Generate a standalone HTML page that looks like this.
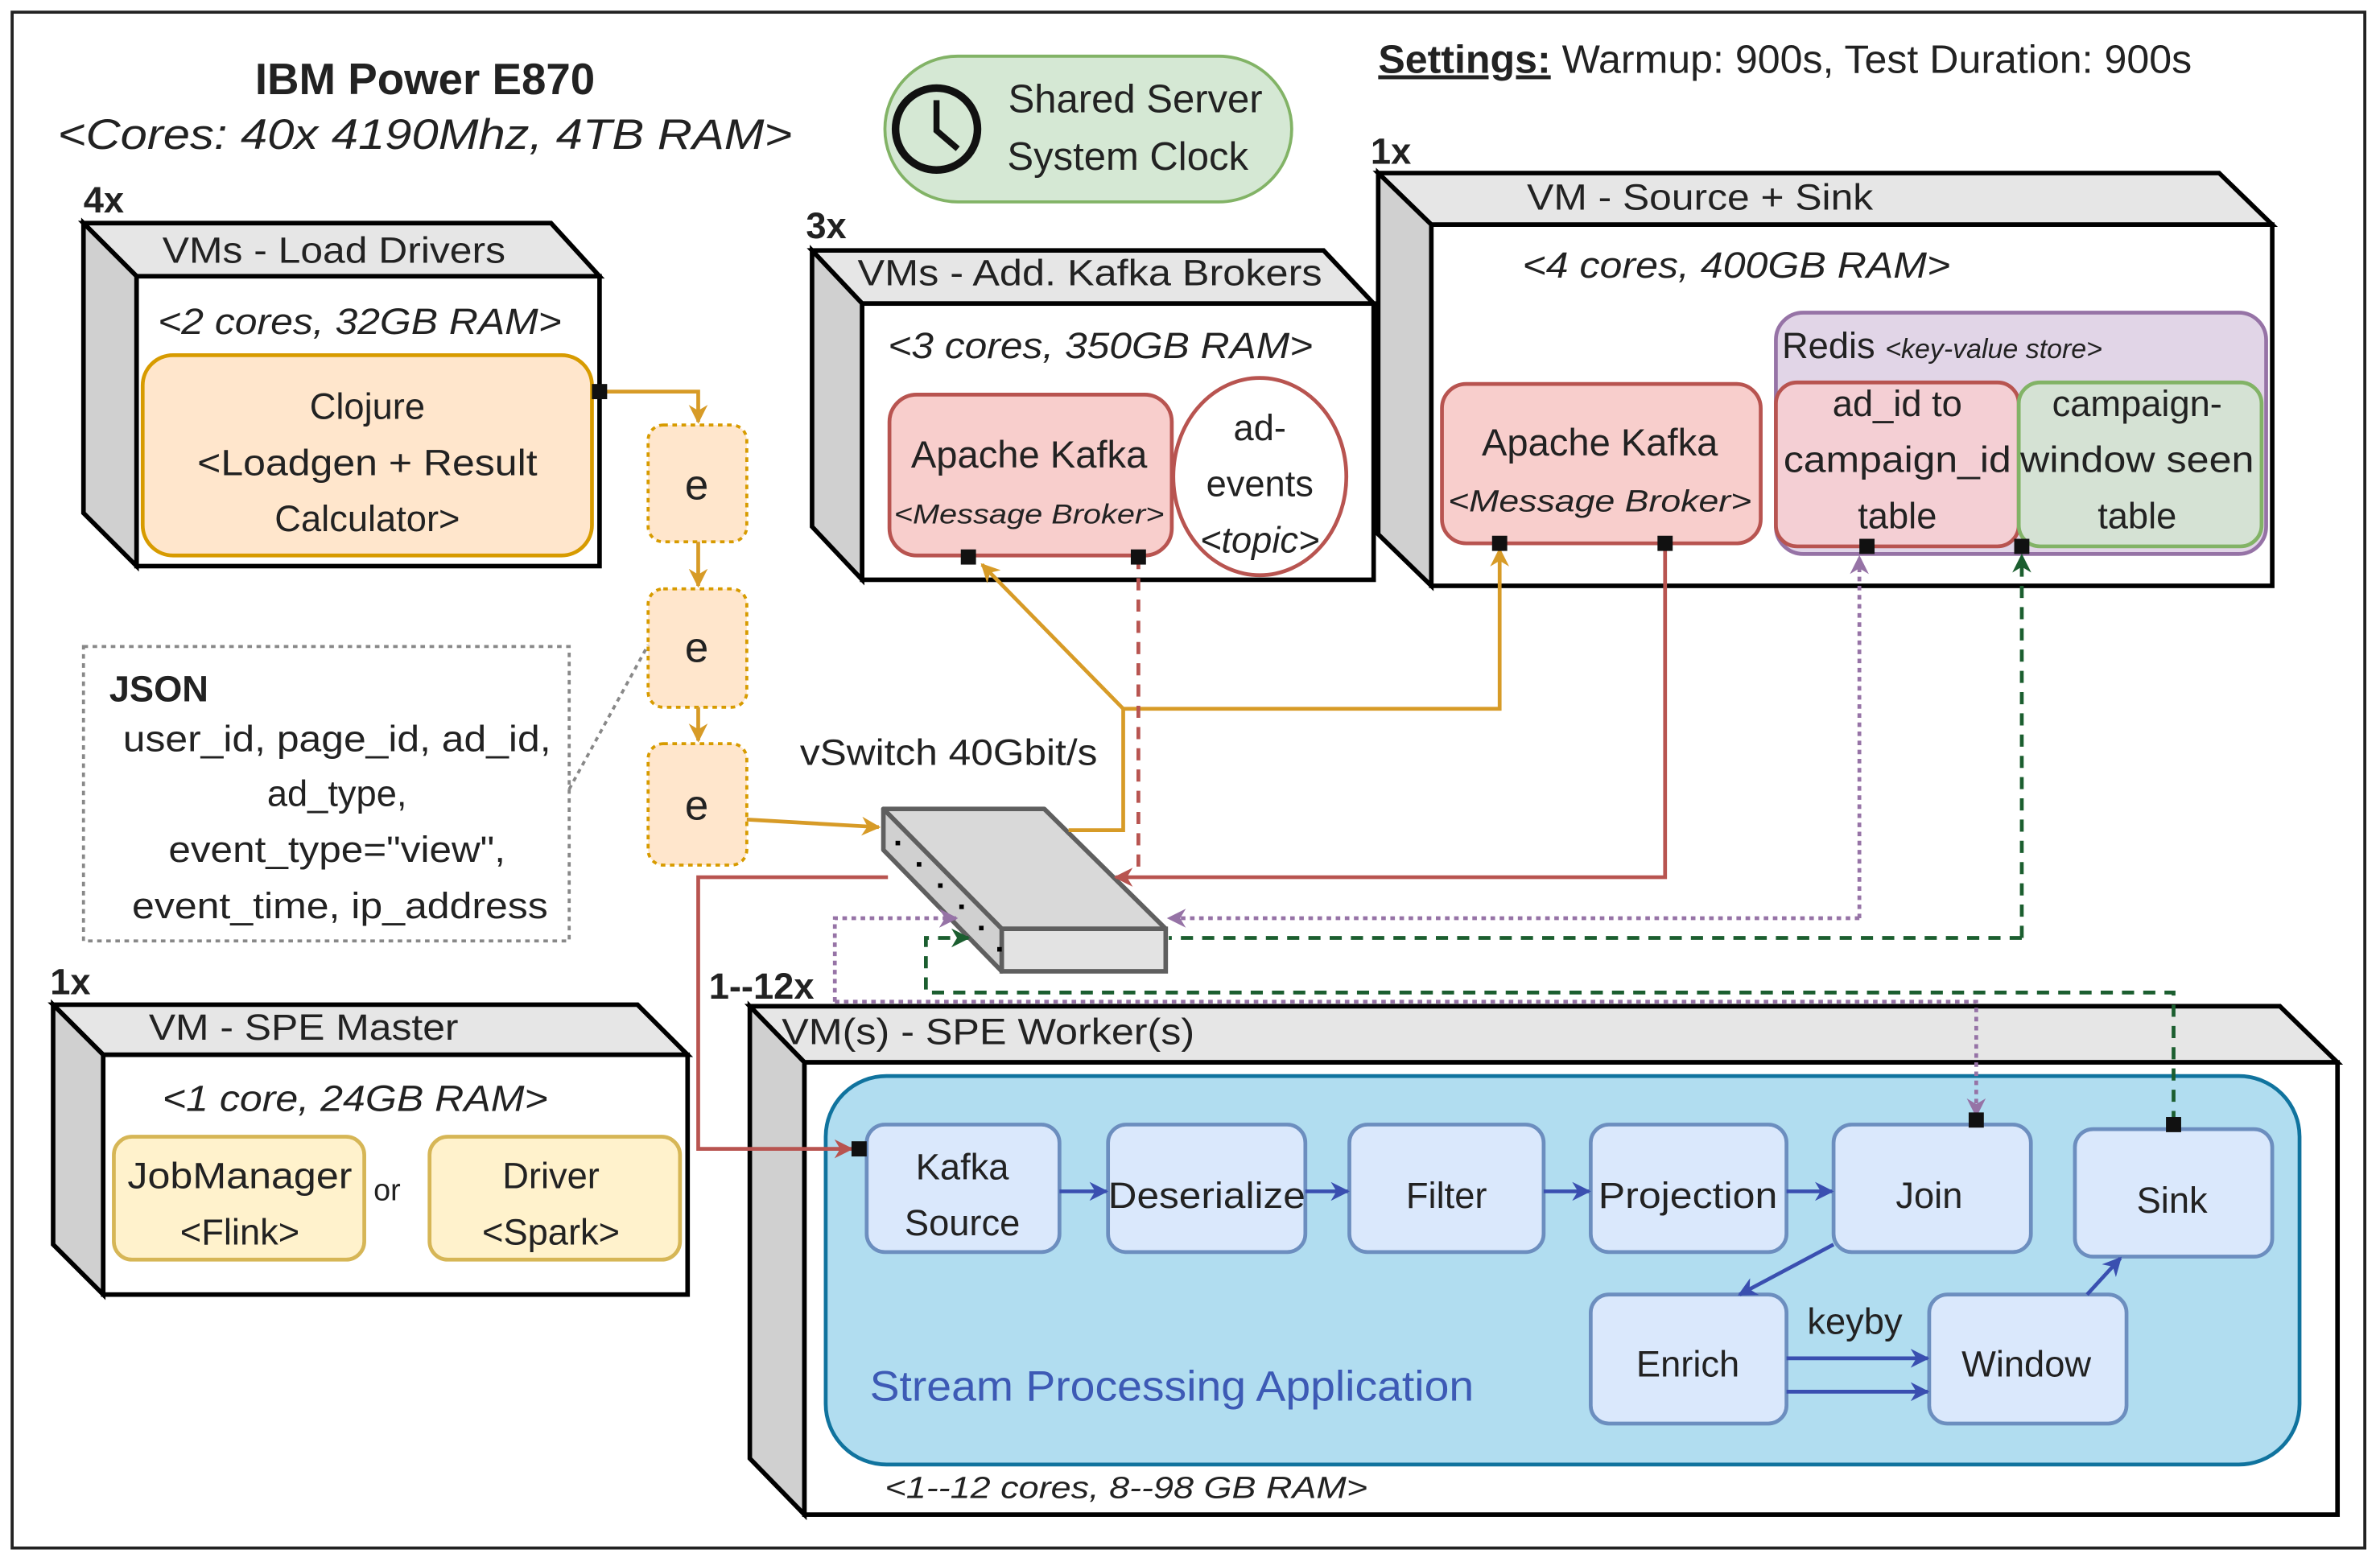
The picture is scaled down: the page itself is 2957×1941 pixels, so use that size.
<!DOCTYPE html>
<html><head><meta charset="utf-8"><style>html,body{margin:0;padding:0;background:#fff}svg{display:block}</style></head>
<body>
<svg width="2957" height="1941" viewBox="0 0 1568 1029.2" xmlns="http://www.w3.org/2000/svg" font-family="Liberation Sans, Arial, sans-serif" fill="#222">
<defs>
<marker id="ao" viewBox="0 0 10 10" refX="9" refY="5" markerWidth="5" markerHeight="5" orient="auto"><path d="M0,0L10,5L0,10L3,5z" fill="#d79b27"/></marker>
<marker id="ar" viewBox="0 0 10 10" refX="9" refY="5" markerWidth="5" markerHeight="5" orient="auto"><path d="M0,0L10,5L0,10L3,5z" fill="#b85450"/></marker>
<marker id="ap" viewBox="0 0 10 10" refX="9" refY="5" markerWidth="5" markerHeight="5" orient="auto"><path d="M0,0L10,5L0,10L3,5z" fill="#9673a6"/></marker>
<marker id="ag" viewBox="0 0 10 10" refX="9" refY="5" markerWidth="5" markerHeight="5" orient="auto"><path d="M0,0L10,5L0,10L3,5z" fill="#1b5e2f"/></marker>
<marker id="ab" viewBox="0 0 10 10" refX="9" refY="5" markerWidth="5" markerHeight="5" orient="auto"><path d="M0,0L10,5L0,10L3,5z" fill="#3a4fb0"/></marker>
</defs>
<rect x="8" y="8" width="1550" height="1012" fill="#fff" stroke="#222" stroke-width="2"/>

<text x="280" y="62" font-size="29" font-weight="bold" text-anchor="middle">IBM Power E870</text>
<text x="280" y="98" font-size="28" font-style="italic" text-anchor="middle" textLength="484" lengthAdjust="spacingAndGlyphs">&lt;Cores: 40x 4190Mhz, 4TB RAM&gt;</text>

<rect x="583" y="37" width="268" height="96" rx="48" fill="#d5e8d4" stroke="#82b366" stroke-width="2"/>
<circle cx="617" cy="85" r="27" fill="none" stroke="#111" stroke-width="5"/>
<path d="M617,66V86L631,98" fill="none" stroke="#111" stroke-width="4"/>
<text x="748" y="74" font-size="26" text-anchor="middle">Shared Server</text>
<text x="743" y="112" font-size="26" text-anchor="middle">System Clock</text>

<text x="908" y="48" font-size="26" textLength="536" lengthAdjust="spacingAndGlyphs"><tspan font-weight="bold" text-decoration="underline">Settings:</tspan> Warmup: 900s, Test Duration: 900s</text>

<!-- Load drivers -->
<polygon points="55,147 363,147 395,182 90,182" fill="#e6e6e6" stroke="#000" stroke-width="3"/>
<polygon points="55,147 90,182 90,373 55,338" fill="#d0d0d0" stroke="#000" stroke-width="3"/>
<rect x="90" y="182" width="305" height="191" fill="#fff" stroke="#000" stroke-width="3"/>
<text x="55" y="140" font-size="24" font-weight="bold">4x</text>
<text x="220" y="173" font-size="24" text-anchor="middle" textLength="226" lengthAdjust="spacingAndGlyphs">VMs - Load Drivers</text>
<text x="237" y="220" font-size="24" font-style="italic" text-anchor="middle" textLength="266" lengthAdjust="spacingAndGlyphs">&lt;2 cores, 32GB RAM&gt;</text>
<rect x="94" y="234" width="296" height="132" rx="20" fill="#ffe6cc" stroke="#d79b00" stroke-width="2.5"/>
<text x="242" y="276" font-size="24" text-anchor="middle">Clojure</text>
<text x="242" y="313" font-size="24" text-anchor="middle" textLength="224" lengthAdjust="spacingAndGlyphs">&lt;Loadgen + Result</text>
<text x="242" y="350" font-size="24" text-anchor="middle">Calculator&gt;</text>
<path d="M395,258H460V278" fill="none" stroke="#d79b27" stroke-width="2.5" marker-end="url(#ao)"/>
<rect x="390" y="253" width="10" height="10" fill="#111"/>

<!-- e boxes -->
<g stroke="#d79b00" stroke-width="2" stroke-dasharray="3,3" fill="#ffe6cc">
<rect x="427" y="280" width="65" height="77" rx="10"/>
<rect x="427" y="388" width="65" height="78" rx="10"/>
<rect x="427" y="490" width="65" height="80" rx="10"/>
</g>
<text x="459" y="329" font-size="28" text-anchor="middle">e</text>
<text x="459" y="436" font-size="28" text-anchor="middle">e</text>
<text x="459" y="540" font-size="28" text-anchor="middle">e</text>
<path d="M460,357V386" stroke="#d79b27" stroke-width="2.5" marker-end="url(#ao)"/>
<path d="M460,466V488" stroke="#d79b27" stroke-width="2.5" marker-end="url(#ao)"/>
<path d="M492,540L579,545" stroke="#d79b27" stroke-width="2.5" marker-end="url(#ao)"/>

<!-- JSON -->
<rect x="55" y="426" width="320" height="194" fill="#fff" stroke="#888" stroke-width="2" stroke-dasharray="3,3"/>
<path d="M375,520L427,425" stroke="#888" stroke-width="2" stroke-dasharray="3,3"/>
<text x="72" y="462" font-size="24" font-weight="bold">JSON</text>
<text x="222" y="495" font-size="24" text-anchor="middle" textLength="282" lengthAdjust="spacingAndGlyphs">user_id, page_id, ad_id,</text>
<text x="222" y="531" font-size="24" text-anchor="middle">ad_type,</text>
<text x="222" y="568" font-size="24" text-anchor="middle" textLength="222" lengthAdjust="spacingAndGlyphs">event_type="view",</text>
<text x="224" y="605" font-size="24" text-anchor="middle" textLength="274" lengthAdjust="spacingAndGlyphs">event_time, ip_address</text>

<!-- Kafka brokers -->
<polygon points="535,165 872,165 905,200 568,200" fill="#e6e6e6" stroke="#000" stroke-width="3"/>
<polygon points="535,165 568,200 568,382 535,347" fill="#d0d0d0" stroke="#000" stroke-width="3"/>
<rect x="568" y="200" width="337" height="182" fill="#fff" stroke="#000" stroke-width="3"/>
<text x="531" y="157" font-size="24" font-weight="bold">3x</text>
<text x="718" y="188" font-size="24" text-anchor="middle" textLength="306" lengthAdjust="spacingAndGlyphs">VMs - Add. Kafka Brokers</text>
<text x="725" y="236" font-size="24" font-style="italic" text-anchor="middle" textLength="280" lengthAdjust="spacingAndGlyphs">&lt;3 cores, 350GB RAM&gt;</text>
<rect x="586" y="260" width="186" height="106" rx="18" fill="#f8cecc" stroke="#b85450" stroke-width="2.5"/>
<text x="678" y="308" font-size="25" text-anchor="middle">Apache Kafka</text>
<text x="678" y="345" font-size="18" font-style="italic" text-anchor="middle" textLength="178" lengthAdjust="spacingAndGlyphs">&lt;Message Broker&gt;</text>
<ellipse cx="830" cy="314" rx="57" ry="65" fill="#fff" stroke="#b85450" stroke-width="2.5"/>
<text x="830" y="290" font-size="24" text-anchor="middle">ad-</text>
<text x="830" y="327" font-size="24" text-anchor="middle">events</text>
<text x="830" y="364" font-size="24" font-style="italic" text-anchor="middle">&lt;topic&gt;</text>

<!-- Source + Sink -->
<polygon points="908,114 1462,114 1497,148 943,148" fill="#e6e6e6" stroke="#000" stroke-width="3"/>
<polygon points="908,114 943,148 943,386 908,352" fill="#d0d0d0" stroke="#000" stroke-width="3"/>
<rect x="943" y="148" width="554" height="238" fill="#fff" stroke="#000" stroke-width="3"/>
<text x="903" y="108" font-size="24" font-weight="bold">1x</text>
<text x="1120" y="138" font-size="24" text-anchor="middle" textLength="228" lengthAdjust="spacingAndGlyphs">VM - Source + Sink</text>
<text x="1144" y="183" font-size="24" font-style="italic" text-anchor="middle" textLength="282" lengthAdjust="spacingAndGlyphs">&lt;4 cores, 400GB RAM&gt;</text>
<rect x="1170" y="206" width="323" height="159" rx="18" fill="#e1d5e7" stroke="#9673a6" stroke-width="2.5"/>
<text x="1174" y="236" font-size="24">Redis <tspan font-size="18" font-style="italic">&lt;key-value store&gt;</tspan></text>
<rect x="950" y="253" width="210" height="105" rx="16" fill="#f8cecc" stroke="#b85450" stroke-width="2.5"/>
<text x="1054" y="300" font-size="25" text-anchor="middle">Apache Kafka</text>
<text x="1054" y="337" font-size="20" font-style="italic" text-anchor="middle" textLength="200" lengthAdjust="spacingAndGlyphs">&lt;Message Broker&gt;</text>
<rect x="1170" y="252" width="160" height="108" rx="14" fill="#f4cfd4" stroke="#b85450" stroke-width="2.5"/>
<text x="1250" y="274" font-size="24" text-anchor="middle">ad_id to</text>
<text x="1250" y="311" font-size="24" text-anchor="middle" textLength="150" lengthAdjust="spacingAndGlyphs">campaign_id</text>
<text x="1250" y="348" font-size="24" text-anchor="middle">table</text>
<rect x="1330" y="252" width="160" height="108" rx="14" fill="#d5e2d4" stroke="#82b366" stroke-width="2.5"/>
<text x="1408" y="274" font-size="24" text-anchor="middle">campaign-</text>
<text x="1408" y="311" font-size="24" text-anchor="middle" textLength="154" lengthAdjust="spacingAndGlyphs">window seen</text>
<text x="1408" y="348" font-size="24" text-anchor="middle">table</text>

<!-- switch -->
<text x="625" y="504" font-size="24" text-anchor="middle" textLength="196" lengthAdjust="spacingAndGlyphs">vSwitch 40Gbit/s</text>
<polygon points="582,533 688,533 768,612 660,612" fill="#d9d9d9" stroke="#5f5f5f" stroke-width="3" stroke-linejoin="round"/>
<polygon points="582,533 660,612 660,640 582,560" fill="#d0d0d0" stroke="#5f5f5f" stroke-width="3" stroke-linejoin="round"/>
<rect x="660" y="612" width="108" height="28" fill="#e3e3e3" stroke="#5f5f5f" stroke-width="3"/>
<g fill="#000"><rect x="590" y="554" width="3" height="3"/><rect x="604" y="568" width="3" height="3"/><rect x="618" y="582" width="3" height="3"/><rect x="632" y="596" width="3" height="3"/><rect x="645" y="610" width="3" height="3"/><rect x="657" y="624" width="3" height="3"/></g>

<!-- SPE master -->
<polygon points="35,662 420,662 453,695 68,695" fill="#e6e6e6" stroke="#000" stroke-width="3"/>
<polygon points="35,662 68,695 68,853 35,820" fill="#d0d0d0" stroke="#000" stroke-width="3"/>
<rect x="68" y="695" width="385" height="158" fill="#fff" stroke="#000" stroke-width="3"/>
<text x="33" y="655" font-size="24" font-weight="bold">1x</text>
<text x="200" y="685" font-size="24" text-anchor="middle" textLength="204" lengthAdjust="spacingAndGlyphs">VM - SPE Master</text>
<text x="234" y="732" font-size="24" font-style="italic" text-anchor="middle" textLength="254" lengthAdjust="spacingAndGlyphs">&lt;1 core, 24GB RAM&gt;</text>
<rect x="75" y="749" width="165" height="81" rx="12" fill="#fff2cc" stroke="#d6b656" stroke-width="2.5"/>
<text x="158" y="783" font-size="24" text-anchor="middle" textLength="148" lengthAdjust="spacingAndGlyphs">JobManager</text>
<text x="158" y="820" font-size="24" text-anchor="middle">&lt;Flink&gt;</text>
<text x="255" y="791" font-size="20" text-anchor="middle">or</text>
<rect x="283" y="749" width="165" height="81" rx="12" fill="#fff2cc" stroke="#d6b656" stroke-width="2.5"/>
<text x="363" y="783" font-size="24" text-anchor="middle">Driver</text>
<text x="363" y="820" font-size="24" text-anchor="middle">&lt;Spark&gt;</text>

<!-- workers -->
<polygon points="494,663 1502,663 1540,700 530,700" fill="#e6e6e6" stroke="#000" stroke-width="3"/>
<polygon points="494,663 530,700 530,998 494,961" fill="#d0d0d0" stroke="#000" stroke-width="3"/>
<rect x="530" y="700" width="1010" height="298" fill="#fff" stroke="#000" stroke-width="3"/>
<text x="467" y="658" font-size="24" font-weight="bold">1--12x</text>
<text x="515" y="688" font-size="24" textLength="272" lengthAdjust="spacingAndGlyphs">VM(s) - SPE Worker(s)</text>
<rect x="544" y="709" width="971" height="256" rx="40" fill="#b1ddf0" stroke="#10739e" stroke-width="2.5"/>
<text x="742" y="987" font-size="20" font-style="italic" text-anchor="middle" textLength="318" lengthAdjust="spacingAndGlyphs">&lt;1--12 cores, 8--98 GB RAM&gt;</text>
<text x="573" y="923" font-size="28" fill="#3d5ab5" textLength="398" lengthAdjust="spacingAndGlyphs">Stream Processing Application</text>
<g fill="#dae8fc" stroke="#6c8ebf" stroke-width="2.5">
<rect x="571" y="741" width="127" height="84" rx="12"/>
<rect x="730" y="741" width="130" height="84" rx="12"/>
<rect x="889" y="741" width="128" height="84" rx="12"/>
<rect x="1048" y="741" width="129" height="84" rx="12"/>
<rect x="1208" y="741" width="130" height="84" rx="12"/>
<rect x="1367" y="744" width="130" height="84" rx="12"/>
<rect x="1048" y="853" width="129" height="85" rx="12"/>
<rect x="1271" y="853" width="130" height="85" rx="12"/>
</g>
<text x="634" y="777" font-size="24" text-anchor="middle">Kafka</text>
<text x="634" y="814" font-size="24" text-anchor="middle">Source</text>
<text x="795" y="796" font-size="24" text-anchor="middle" textLength="130" lengthAdjust="spacingAndGlyphs">Deserialize</text>
<text x="953" y="796" font-size="24" text-anchor="middle">Filter</text>
<text x="1112" y="796" font-size="24" text-anchor="middle" textLength="118" lengthAdjust="spacingAndGlyphs">Projection</text>
<text x="1271" y="796" font-size="24" text-anchor="middle">Join</text>
<text x="1431" y="799" font-size="24" text-anchor="middle">Sink</text>
<text x="1112" y="907" font-size="24" text-anchor="middle">Enrich</text>
<text x="1335" y="907" font-size="24" text-anchor="middle">Window</text>
<text x="1222" y="879" font-size="24" text-anchor="middle">keyby</text>
<g stroke="#3a4fb0" stroke-width="2.5" fill="none" marker-end="url(#ab)">
<path d="M698,785H729"/><path d="M860,785H888"/><path d="M1017,785H1047"/><path d="M1177,785H1207"/>
<path d="M1208,820L1146,853"/><path d="M1177,895H1270"/><path d="M1177,917H1270"/><path d="M1375,853L1397,829"/>
</g>

<!-- connectors -->
<path d="M704,547H740V467H988V362" fill="none" stroke="#d79b27" stroke-width="2.5" marker-end="url(#ao)"/>
<path d="M740,467L647,372" fill="none" stroke="#d79b27" stroke-width="2.5" marker-end="url(#ao)"/>
<path d="M750,367V578" stroke="#b85450" stroke-width="2.5" stroke-dasharray="8,6"/>
<path d="M1097,358V578H735" fill="none" stroke="#b85450" stroke-width="2.5" marker-end="url(#ar)"/>
<path d="M585,578H460V757H561" fill="none" stroke="#b85450" stroke-width="2.5" marker-end="url(#ar)"/>
<path d="M1225,605H770" fill="none" stroke="#9673a6" stroke-width="2.5" stroke-dasharray="3,3" marker-end="url(#ap)"/>
<path d="M1225,605V367" fill="none" stroke="#9673a6" stroke-width="2.5" marker-end="url(#ap)" stroke-dasharray="3,3"/>
<path d="M550,660V605H630" fill="none" stroke="#9673a6" stroke-width="2.5" stroke-dasharray="3,3" marker-end="url(#ap)"/>
<path d="M550,660H1302V735" fill="none" stroke="#9673a6" stroke-width="2.5" stroke-dasharray="3,3" marker-end="url(#ap)"/>
<path d="M1332,618V366" fill="none" stroke="#1b5e2f" stroke-width="2.5" stroke-dasharray="8,6" marker-end="url(#ag)"/>
<path d="M1332,618H770" fill="none" stroke="#1b5e2f" stroke-width="2.5" stroke-dasharray="8,6"/>
<path d="M1432,740V654H610V618H638" fill="none" stroke="#1b5e2f" stroke-width="2.5" stroke-dasharray="8,6" marker-end="url(#ag)"/>
<g fill="#111"><rect x="633" y="362" width="10" height="10"/><rect x="745" y="362" width="10" height="10"/><rect x="983" y="353" width="10" height="10"/><rect x="1092" y="353" width="10" height="10"/><rect x="1225" y="355" width="10" height="10"/><rect x="1327" y="355" width="10" height="10"/></g>
<rect x="561" y="752" width="10" height="10" fill="#111"/>
<rect x="1297" y="733" width="10" height="10" fill="#111"/>
<rect x="1427" y="736" width="10" height="10" fill="#111"/>
</svg>
</body></html>
